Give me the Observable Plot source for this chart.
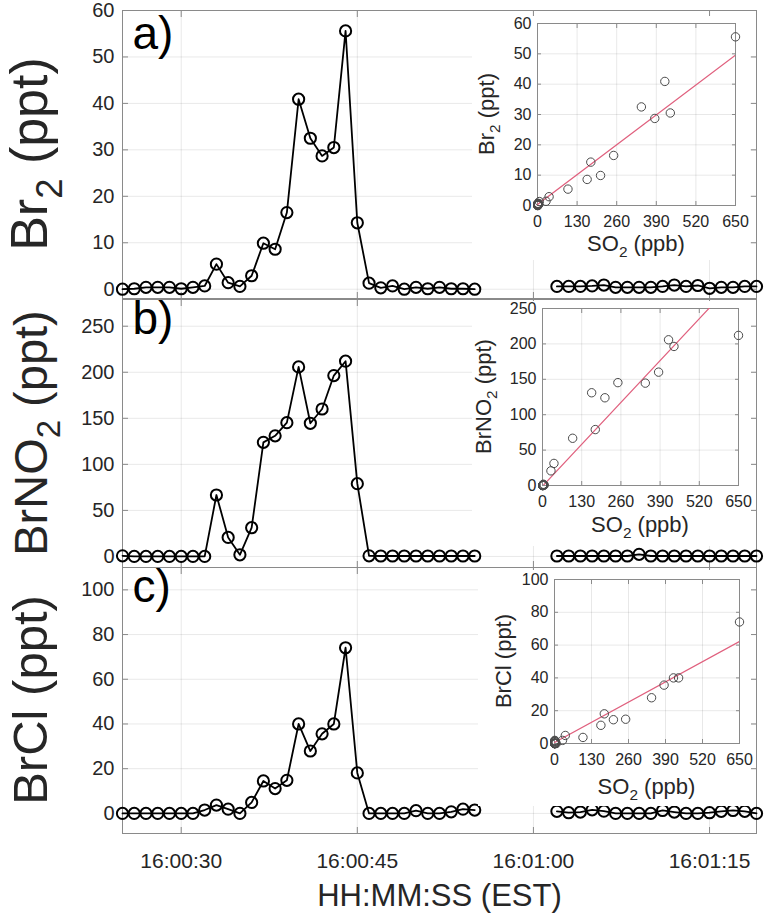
<!DOCTYPE html>
<html>
<head>
<meta charset="utf-8">
<script src="https://cdn.jsdelivr.net/npm/d3@7"></script>
<script src="https://cdn.jsdelivr.net/npm/@observablehq/plot@0.6"></script>
<style>
  html, body { margin: 0; padding: 0; background: #fff; overflow: hidden; }
  #root { position: relative; width: 765px; height: 917px; }
  .layer { position: absolute; }
</style>
</head>
<body>
<div id="root"></div>
<script>
// ---------- data ----------
// seconds after 16:00:00 for each sample
const seg1Sec = [25,26,27,28,29,30,31,32,33,34,35,36,37,38,39,40,41,42,43,44,45,46,47,48,49,50,51,52,53,54,55];
const seg2Sec = [62,63,64,65,66,67,68,69,70,71,72,73,74,75,76,77,78,79];

const br2Seg1 = [0,0.1,0.4,0.4,0.4,0.1,0.4,0.7,5.4,1.4,0.6,2.9,9.9,8.6,16.5,40.9,32.5,28.7,30.5,55.6,14.3,1.3,0.3,0.7,0,0.4,0.1,0.4,0.1,0.1,0];
const br2Seg2 = [0.6,0.6,0.6,0.7,0.9,0.4,0.4,0.4,0.4,0.6,0.9,0.6,0.8,0.2,0.4,0.4,0.6,0.6];

const brno2Seg1 = [0.7,0,0,0,0,0,0,0,66.7,20.7,1.8,31.2,123.9,131,145.3,205.8,144.6,160.1,196.4,212,79,0.7,0.5,0.5,0.5,0.5,0.5,0.5,0.5,0.5,0.5];
const brno2Seg2 = [0.5,0.5,0.5,0.5,0.5,0.5,0.5,2.3,0.5,0.5,0.5,0.5,0.5,0.5,0.5,0.5,0.5,0.5];

const brclSeg1 = [0,0,0,0,0,0,0,1.5,3.7,1.9,0,4.9,14.5,11.1,14.8,40,27.9,35.6,40,74.1,18.1,0,0,0,0,1.2,0,0,0.7,1.9,1.5];
const brclSeg2 = [0.9,0.3,0.6,1.6,1.0,0,0,0,0,1.3,0.6,0,0,0.3,0.9,1.3,0.9,0];

// SO2 (ppb) at each first-segment sample (used in the insets)
const so2Seg1 = [1,1,1,1,1,1,1,2,100,28,3,38,207,163,250,418,341,385,436,650,175,6,1,1,1,1,1,1,1,1,1];

// linear fits shown in the insets: [Br2, BrNO2, BrCl]
const fitSlope = [0.0758, 0.455, 0.0948];
const fitIntercept = [0.3, -1, 0.6];

// ticks
const xTickSec = [30, 45, 60, 75];
const xTickLabels = ["16:00:30", "16:00:45", "16:01:00", "16:01:15"];
const br2Ticks = [0,10,20,30,40,50,60];
const brno2Ticks = [0,50,100,150,200,250];
const brclTicks = [0,20,40,60,80,100];
const so2Ticks = [0,130,260,390,520,650];

// ---------- styling ----------
const FONT = '"Liberation Sans", Arial, Helvetica, sans-serif';
const AXIS = "#8a8a8a";
const TXT = "#262626";
const GRID = {stroke: "#000", strokeOpacity: 0.09};
const root = document.getElementById("root");

function place(el, left, top) {
  const d = document.createElement("div");
  d.className = "layer";
  d.style.left = left + "px";
  d.style.top = top + "px";
  d.appendChild(el);
  root.appendChild(d);
  return el;
}

function richText(svg, {x, y, rotate, size, parts, fill = TXT}) {
  const t = d3.select(svg).append("text")
    .attr("transform", `translate(${x},${y})` + (rotate ? " rotate(-90)" : ""))
    .attr("text-anchor", "middle")
    .attr("font-family", FONT)
    .attr("font-size", size)
    .attr("fill", fill);
  let shift = 0;
  for (const [s, sub] of parts) {
    const target = sub ? 0.28 * size : 0;
    const ts = t.append("tspan").text(s).attr("dy", target - shift);
    if (sub) ts.attr("font-size", size * 0.7);
    shift = target;
  }
}

function mainPanel(o) {
  const rows = [
    ...seg1Sec.map((t, i) => ({t, v: o.seg1[i], seg: "s1"})),
    ...seg2Sec.map((t, i) => ({t, v: o.seg2[i], seg: "s2"}))
  ];
  const marks = [
    Plot.gridX(xTickSec, GRID),
    Plot.gridY(o.yTicks, GRID),
    Plot.frame({stroke: AXIS}),
    Plot.axisY(o.yTicks, {anchor: "left", tickSize: -6, tickPadding: 14, fontSize: 20, stroke: AXIS, fill: TXT, label: null}),
    Plot.axisY(o.yTicks, {anchor: "right", tickSize: -6, tickFormat: () => "", stroke: AXIS, label: null}),
    Plot.axisX(xTickSec, {anchor: "top", tickSize: -6, tickFormat: () => "", stroke: AXIS, label: null}),
    Plot.axisX(xTickSec, {anchor: "bottom", tickSize: -6, tickPadding: 26, fontSize: 21, stroke: AXIS, fill: TXT, label: null,
      tickFormat: o.showX ? (d => xTickLabels[xTickSec.indexOf(d)]) : (() => "")}),
    Plot.line(rows, {x: "t", y: "v", z: "seg", stroke: "#000", strokeWidth: 1.8}),
    Plot.dot(rows, {x: "t", y: "v", r: 5.6, stroke: "#000", strokeWidth: 2, fill: "none"}),
    Plot.text([o.letter], {text: d => d, frameAnchor: "top-left", dx: 10, dy: o.letterDy, fontSize: 46, lineAnchor: "top", textAnchor: "start", fill: "#000"})
  ];
  if (o.showX) {
    marks.push(Plot.text(["HH:MM:SS (EST)"], {text: d => d, frameAnchor: "bottom", dy: 63, fontSize: 31, lineAnchor: "middle", fill: TXT}));
  }
  const svg = Plot.plot({
    width: 765, height: 917,
    marginLeft: 122, marginRight: 9, marginTop: o.top, marginBottom: 917 - o.bottom,
    style: {background: "transparent", fontFamily: FONT, overflow: "visible"},
    x: {domain: [25, 79]},
    y: {domain: o.yDomain},
    marks
  });
  place(svg, 0, 0);
  richText(svg, {x: o.labelX, y: (o.top + o.bottom) / 2, rotate: true, size: o.labelSize, parts: o.labelParts});
  return svg;
}

function insetPanel(o) {
  const pts = so2Seg1.map((s, i) => ({s, v: o.vals[i]}));
  const fitX = [so2Ticks[0], so2Ticks[so2Ticks.length - 1]];
  const svg = Plot.plot({
    width: o.w, height: o.h,
    marginLeft: o.mL, marginRight: o.mR, marginTop: o.mT, marginBottom: o.mB,
    style: {background: "white", fontFamily: FONT, overflow: "visible"},
    x: {domain: [0, 650]},
    y: {domain: o.yDomain},
    marks: [
      Plot.gridX(so2Ticks, GRID),
      Plot.gridY(o.yTicks, GRID),
      Plot.frame({stroke: AXIS}),
      Plot.axisY(o.yTicks, {anchor: "left", tickSize: -4, tickPadding: 10, fontSize: 16, stroke: AXIS, fill: TXT, label: null}),
      Plot.axisY(o.yTicks, {anchor: "right", tickSize: -4, tickFormat: () => "", stroke: AXIS, label: null}),
      Plot.axisX(so2Ticks, {anchor: "bottom", tickSize: -4, tickPadding: 14, fontSize: 16, stroke: AXIS, fill: TXT, label: null}),
      Plot.axisX(so2Ticks, {anchor: "top", tickSize: -4, tickFormat: () => "", stroke: AXIS, label: null}),
      Plot.line(fitX, {x: d => d, y: d => o.slope * d + o.intercept, stroke: "#e0607e", strokeWidth: 1.2, clip: true}),
      Plot.dot(pts, {x: "s", y: "v", r: 4.2, stroke: "#4a4a4a", strokeWidth: 1, fill: "none"})
    ]
  });
  place(svg, o.left, o.top);
  const plotTop = o.mT, plotBottom = o.h - o.mB;
  const plotLeft = o.mL, plotRight = o.w - o.mR;
  richText(svg, {x: o.yLabelX, y: (plotTop + plotBottom) / 2, rotate: true, size: 22, parts: o.yParts});
  richText(svg, {x: (plotLeft + plotRight) / 2, y: plotBottom + o.xLabelDy, rotate: false, size: 22, parts: [["SO", false], ["2", true], [" (ppb)", false]]});
  return svg;
}

// ---------- main panels ----------
mainPanel({seg1: br2Seg1, seg2: br2Seg2, yDomain: [-2, 60], yTicks: br2Ticks, top: 10, bottom: 298,
  letter: "a)", letterDy: 6, showX: false, labelX: 47, labelSize: 52,
  labelParts: [["Br", false], ["2", true], [" (ppt)", false]]});
mainPanel({seg1: brno2Seg1, seg2: brno2Seg2, yDomain: [-12, 279], yTicks: brno2Ticks, top: 299, bottom: 567,
  letter: "b)", letterDy: 2, showX: false, labelX: 47, labelSize: 47,
  labelParts: [["BrNO", false], ["2", true], [" (ppt)", false]]});
mainPanel({seg1: brclSeg1, seg2: brclSeg2, yDomain: [-9, 110], yTicks: brclTicks, top: 567, bottom: 833,
  letter: "c)", letterDy: 2, showX: true, labelX: 47, labelSize: 49,
  labelParts: [["BrCl (ppt)", false]]});

// ---------- insets ----------
insetPanel({vals: br2Seg1, yDomain: [0, 60], yTicks: br2Ticks, slope: fitSlope[0], intercept: fitIntercept[0],
  left: 472, top: 16, w: 278, h: 244, mL: 65, mR: 15, mT: 7, mB: 55,
  yLabelX: 22, xLabelDy: 46, yParts: [["Br", false], ["2", true], [" (ppt)", false]]});
insetPanel({vals: brno2Seg1, yDomain: [0, 250], yTicks: brno2Ticks, slope: fitSlope[1], intercept: fitIntercept[1],
  left: 472, top: 301, w: 279, h: 245, mL: 70, mR: 13, mT: 7, mB: 61,
  yLabelX: 19, xLabelDy: 47, yParts: [["BrNO", false], ["2", true], [" (ppt)", false]]});
insetPanel({vals: brclSeg1, yDomain: [0, 100], yTicks: brclTicks, slope: fitSlope[2], intercept: fitIntercept[2],
  left: 478, top: 570, w: 273, h: 236, mL: 76, mR: 12, mT: 9, mB: 63,
  yLabelX: 33, xLabelDy: 51, yParts: [["BrCl (ppt)", false]]});
</script>
</body>
</html>
